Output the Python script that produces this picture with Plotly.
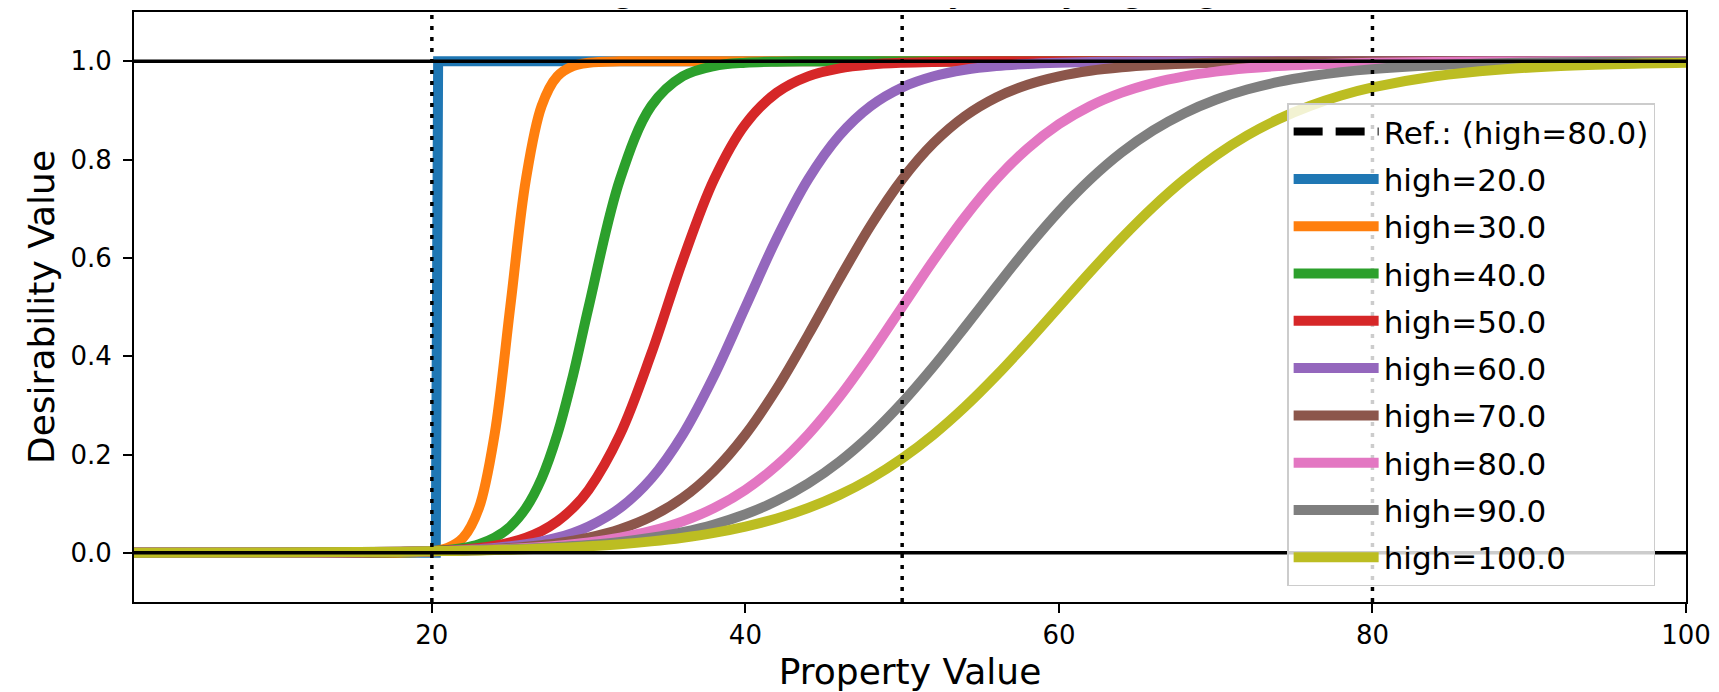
import plotly.graph_objects as go

# ---------------- data ----------------
x_grid = [1, 10, 18, 20, 21, 22, 23, 24, 25, 26, 27, 28, 29, 30, 32, 34, 36, 38, 40,
          42, 44, 46, 48, 50, 52, 54, 56, 58, 60, 62, 64, 66, 68, 70, 72, 74, 76, 78,
          80, 84, 88, 92, 96, 100]

high_20_x = [1, 20.25, 20.4, 100]
high_20_y = [0.0, 0.0, 1.0, 1.0]

high_30 = [0.0, 0.0, 0.0003, 0.0032, 0.0099, 0.0308, 0.0911, 0.2405, 0.5, 0.7595,
           0.9089, 0.9692, 0.9901, 0.9968, 0.9997, 1.0, 1.0, 1.0, 1.0,
           1.0, 1.0, 1.0, 1.0, 1.0, 1.0, 1.0, 1.0, 1.0, 1.0, 1.0, 1.0, 1.0, 1.0, 1.0, 1.0, 1.0, 1.0, 1.0,
           1.0, 1.0, 1.0, 1.0, 1.0, 1.0]
high_40 = [0.0, 0.0, 0.001, 0.0032, 0.0056, 0.0099, 0.0175, 0.0308, 0.0534, 0.0911,
           0.1512, 0.2405, 0.3601, 0.5, 0.7595, 0.9089, 0.9692, 0.9901, 0.9968,
           0.999, 0.9997, 1.0, 1.0, 1.0, 1.0, 1.0, 1.0, 1.0, 1.0, 1.0, 1.0, 1.0, 1.0, 1.0, 1.0, 1.0, 1.0, 1.0,
           1.0, 1.0, 1.0, 1.0, 1.0, 1.0]
high_50 = [0.0, 0.0001, 0.0015, 0.0032, 0.0046, 0.0068, 0.0099, 0.0145, 0.0212, 0.0308,
           0.0445, 0.064, 0.0911, 0.1282, 0.2405, 0.4053, 0.5947, 0.7595, 0.8718,
           0.936, 0.9692, 0.9855, 0.9932, 0.9968, 0.9985, 0.9993, 0.9997, 1.0, 1.0, 1.0, 1.0, 1.0, 1.0, 1.0,
           1.0, 1.0, 1.0, 1.0, 1.0, 1.0, 1.0, 1.0, 1.0, 1.0]
high_60 = [0.0, 0.0002, 0.0018, 0.0032, 0.0042, 0.0056, 0.0075, 0.0099, 0.0132, 0.0175,
           0.0233, 0.0308, 0.0406, 0.0534, 0.0911, 0.1512, 0.2405, 0.3601, 0.5,
           0.6399, 0.7595, 0.8488, 0.9089, 0.9466, 0.9692, 0.9825, 0.9901, 0.9944, 0.9968, 0.9982,
           0.999, 0.9994, 0.9997, 1.0, 1.0, 1.0, 1.0, 1.0, 1.0, 1.0, 1.0, 1.0, 1.0, 1.0]
high_70 = [0.0, 0.0003, 0.002, 0.0032, 0.004, 0.005, 0.0063, 0.0079, 0.0099, 0.0125,
           0.0157, 0.0196, 0.0246, 0.0308, 0.0479, 0.0738, 0.112, 0.1666, 0.2405,
           0.334, 0.4428, 0.5572, 0.666, 0.7595, 0.8334, 0.888, 0.9262, 0.9521, 0.9692, 0.9804,
           0.9875, 0.9921, 0.995, 0.9968, 0.998, 0.9987, 0.9992, 0.9995, 0.9997, 1.0, 1.0, 1.0, 1.0, 1.0]
high_80 = [0.0001, 0.0005, 0.0022, 0.0032, 0.0038, 0.0046, 0.0056, 0.0068, 0.0082, 0.0099,
           0.012, 0.0145, 0.0175, 0.0212, 0.0308, 0.0445, 0.064, 0.0911, 0.1282,
           0.1775, 0.2405, 0.3172, 0.4053, 0.5, 0.5947, 0.6828, 0.7595, 0.8225, 0.8718, 0.9089,
           0.936, 0.9555, 0.9692, 0.9788, 0.9855, 0.9901, 0.9932, 0.9954, 0.9968, 0.9985, 0.9993,
           0.9997, 0.9999, 0.9999]
high_90 = [0.0001, 0.0006, 0.0023, 0.0032, 0.0037, 0.0044, 0.0052, 0.0061, 0.0072, 0.0085,
           0.0099, 0.0117, 0.0138, 0.0162, 0.0223, 0.0308, 0.0423, 0.0577, 0.0784,
           0.1057, 0.141, 0.1856, 0.2405, 0.3055, 0.3792, 0.459, 0.541, 0.6208, 0.6945, 0.7595,
           0.8144, 0.859, 0.8943, 0.9216, 0.9423, 0.9577, 0.9692, 0.9777, 0.9838, 0.9915, 0.9956,
           0.9977, 0.9988, 0.9994]
high_100 = [0.0002, 0.0008, 0.0024, 0.0032, 0.0037, 0.0042, 0.0049, 0.0056, 0.0065, 0.0075,
            0.0086, 0.0099, 0.0115, 0.0132, 0.0175, 0.0233, 0.0308, 0.0406, 0.0534,
            0.0699, 0.0911, 0.1179, 0.1512, 0.192, 0.2405, 0.2968, 0.3601, 0.4286, 0.5, 0.5714,
            0.6399, 0.7032, 0.7595, 0.808, 0.8488, 0.8821, 0.9089, 0.9302, 0.9466, 0.9692, 0.9825,
            0.9901, 0.9944, 0.9968]

series_names = ["high=30.0", "high=40.0", "high=50.0", "high=60.0",
                "high=70.0", "high=80.0", "high=90.0", "high=100.0"]
series_values = [high_30, high_40, high_50, high_60, high_70, high_80, high_90, high_100]
series_colors = ["#ff7f0e", "#2ca02c", "#d62728", "#9467bd",
                 "#8c564b", "#e377c2", "#7f7f7f", "#bcbd22"]

ref_name = "Ref.: (high=80.0)"
ref_values = high_80

h_lines = [0.0, 1.0]
v_lines = [20, 50, 80]

x_ticks = [20, 40, 60, 80, 100]
y_ticks = [0.0, 0.2, 0.4, 0.6, 0.8, 1.0]

title_text = "Sigmoid desirability, varying high"

FONT = "DejaVu Sans"
LW = 10

fig = go.Figure()

fig.add_trace(go.Scatter(x=x_grid, y=ref_values, mode="lines", name=ref_name,
                         legendgroup="ref",
                         line=dict(color="black", width=8, dash="29px,13px", shape="spline")))
fig.add_trace(go.Scatter(x=high_20_x, y=high_20_y, mode="lines", name="high=20.0",
                         legendgroup="h20",
                         line=dict(color="#1f77b4", width=LW)))
for name, vals, col in zip(series_names, series_values, series_colors):
    fig.add_trace(go.Scatter(x=x_grid, y=vals, mode="lines", name=name, legendgroup=name,
                             line=dict(color=col, width=LW, shape="spline")))

for yv in h_lines:
    fig.add_hline(y=yv, line=dict(color="black", width=3.5), layer="above")
for xv in v_lines:
    fig.add_vline(x=xv, line=dict(color="black", width=3.5, dash="4px,7px"), layer="above")

fig.add_annotation(text=title_text, xref="paper", yref="paper", x=0.5, y=1.044,
                   xanchor="center", yanchor="middle", showarrow=False,
                   font=dict(family=FONT, size=40, color="black"))

axis_common = dict(showline=True, linecolor="black", linewidth=2, mirror=True,
                   ticks="outside", ticklen=9, tickwidth=2, tickcolor="black",
                   showgrid=False, zeroline=False,
                   tickfont=dict(family=FONT, size=26, color="black"))

fig.update_xaxes(range=[1, 100], tickvals=x_ticks, ticktext=[str(v) for v in x_ticks],
                 title=dict(text="Property Value", font=dict(family=FONT, size=36, color="black"),
                            standoff=14),
                 **axis_common)
fig.update_yaxes(range=[-0.1, 1.1], tickvals=y_ticks, ticktext=[f"{v:.1f}" for v in y_ticks],
                 ticklabelstandoff=6,
                 title=dict(text="Desirability Value", font=dict(family=FONT, size=36, color="black"),
                            standoff=5),
                 **axis_common)

fig.update_layout(
    width=1711, height=684,
    margin=dict(l=126, r=33, t=4, b=90, autoexpand=False),
    paper_bgcolor="white", plot_bgcolor="white",
    font=dict(family=FONT, color="black"),
    showlegend=True,
    legend=dict(x=0.743, y=0.845, xanchor="left", yanchor="top",
                bgcolor="rgba(255,255,255,0.8)", bordercolor="#cccccc", borderwidth=1.5,
                font=dict(family=FONT, size=31, color="black"),
                itemwidth=85, tracegroupgap=4, traceorder="grouped"),
)

fig.write_html("out.html")
